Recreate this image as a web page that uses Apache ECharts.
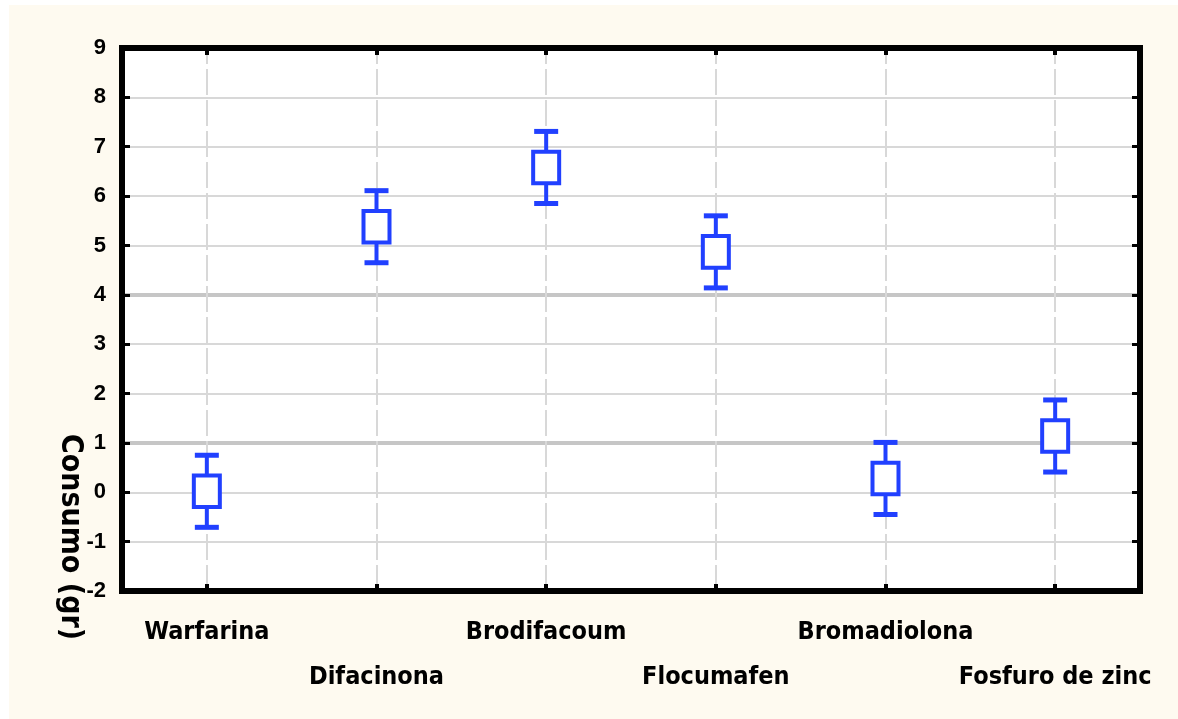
<!DOCTYPE html>
<html>
<head>
<meta charset="utf-8">
<script src="https://cdn.jsdelivr.net/npm/echarts@6/dist/echarts.min.js"></script>
<style>
  html, body { margin: 0; padding: 0; background: #ffffff; }
  #chart { width: 1178px; height: 719px; }
</style>
</head>
<body>
<div id="chart"></div>
<script>
// Treatments (rodenticides)
const categories = ['Warfarina', 'Difacinona', 'Brodifacoum', 'Flocumafen', 'Bromadiolona', 'Fosfuro de zinc'];
// Mean consumption (gr)
const means      = [0.02, 5.38, 6.58, 4.87, 0.28, 1.14];
// Box limits (mean ± standard error)
const boxLow     = [-0.30, 5.06, 6.26, 4.55, -0.04, 0.82];
const boxHigh    = [0.34, 5.70, 6.90, 5.19, 0.60, 1.46];
// Whisker limits (mean ± 1.96 standard error)
const whiskLow   = [-0.71, 4.65, 5.85, 4.14, -0.45, 0.41];
const whiskHigh  = [0.75, 6.11, 7.31, 5.60, 1.01, 1.87];
// Value axis
const yMin = -2, yMax = 9, yStep = 1;
const yTicks = [-2, -1, 0, 1, 2, 3, 4, 5, 6, 7, 8, 9];
const strongLines = [1, 4];

const BLUE = '#2140ff';
const FONT = '"Liberation Sans Narrow", "DejaVu Sans Condensed", "Liberation Sans", sans-serif';

const chart = echarts.init(document.getElementById('chart'), null, { renderer: 'canvas' });

const seriesData = categories.map((c, i) => [i, means[i], boxLow[i], boxHigh[i], whiskLow[i], whiskHigh[i]]);

// Horizontal and vertical grid lines
const hLines = yTicks.filter(v => v > yMin && v < yMax).map(v => ({
  yAxis: v,
  lineStyle: strongLines.includes(v)
    ? { color: '#c6c6c6', width: 4, type: 'solid' }
    : { color: '#d8d8d8', width: 2, type: 'solid' }
}));
const vLines = categories.map(c => ({
  xAxis: c,
  lineStyle: { color: '#d8d8d8', width: 2, type: [26, 5] }
}));

const borderLine = { show: true, onZero: false, lineStyle: { color: '#000', width: 6, cap: 'square' } };

const option = {
  animation: false,
  backgroundColor: '#ffffff',
  graphic: [
    {
      type: 'rect', z: -10, silent: true,
      shape: { x: 9, y: 5, width: 1178, height: 719 },
      style: { fill: '#fefaf0' }
    },
    {
      type: 'text', z: 10, silent: true,
      x: 70, y: 537, rotation: -Math.PI / 2,
      style: {
        text: 'Consumo (gr)',
        font: 'bold 30px ' + FONT,
        fill: '#000',
        align: 'center',
        verticalAlign: 'middle'
      }
    }
  ],
  grid: {
    left: 122, right: 38, top: 48, bottom: 128,
    show: true, backgroundColor: '#ffffff', borderWidth: 0
  },
  xAxis: [
    {
      type: 'category', data: categories, position: 'bottom', z: 5,
      boundaryGap: true,
      axisLine: borderLine,
      axisTick: { show: true, inside: true, alignWithLabel: true, length: 7, lineStyle: { color: '#000', width: 4 } },
      axisLabel: {
        interval: 0, margin: 19, color: '#000', fontWeight: 'bold',
        fontFamily: FONT, fontSize: 25, lineHeight: 45,
        formatter: (v, i) => (i % 2 ? '\n' + v : v)
      },
      splitLine: { show: false }
    },
    {
      type: 'category', data: categories, position: 'top', z: 5,
      boundaryGap: true,
      axisLine: borderLine,
      axisTick: { show: true, inside: true, alignWithLabel: true, length: 7, lineStyle: { color: '#000', width: 4 } },
      axisLabel: { show: false },
      splitLine: { show: false }
    }
  ],
  yAxis: [
    {
      type: 'value', min: yMin, max: yMax, interval: yStep, position: 'left', z: 5,
      axisLine: borderLine,
      axisTick: { show: true, inside: true, length: 8, lineStyle: { color: '#000', width: 3 } },
      axisLabel: { color: '#000', fontWeight: 'bold', fontFamily: '"Liberation Sans", Arial, sans-serif', fontSize: 22, margin: 16 },
      splitLine: { show: false }
    },
    {
      type: 'value', min: yMin, max: yMax, interval: yStep, position: 'right', z: 5,
      axisLine: borderLine,
      axisTick: { show: true, inside: true, length: 8, lineStyle: { color: '#000', width: 3 } },
      axisLabel: { show: false },
      splitLine: { show: false }
    }
  ],
  series: [
    {
      type: 'line', data: [], z: 1, silent: true,
      markLine: {
        z: 1, silent: true, symbol: 'none', animation: false,
        label: { show: false },
        emphasis: { disabled: true },
        data: hLines.concat(vLines)
      }
    },
    {
      type: 'custom', z: 3,
      data: seriesData,
      encode: { x: 0, y: [1, 2, 3, 4, 5] },
      renderItem: (params, api) => {
        const i = api.value(0);
        const x = api.coord([i, 0])[0];
        const yBoxLo = api.coord([i, api.value(2)])[1];
        const yBoxHi = api.coord([i, api.value(3)])[1];
        const yWLo = api.coord([i, api.value(4)])[1];
        const yWHi = api.coord([i, api.value(5)])[1];
        const capW = 24, boxW = 26;
        const lineSty = { stroke: BLUE, lineWidth: 4 };
        return {
          type: 'group',
          children: [
            { type: 'line', shape: { x1: x, y1: yWHi, x2: x, y2: yBoxHi }, style: lineSty },
            { type: 'line', shape: { x1: x, y1: yBoxLo, x2: x, y2: yWLo }, style: lineSty },
            { type: 'line', shape: { x1: x - capW / 2, y1: yWHi, x2: x + capW / 2, y2: yWHi }, style: { stroke: BLUE, lineWidth: 5 } },
            { type: 'line', shape: { x1: x - capW / 2, y1: yWLo, x2: x + capW / 2, y2: yWLo }, style: { stroke: BLUE, lineWidth: 5 } },
            {
              type: 'rect',
              shape: { x: x - boxW / 2, y: yBoxHi, width: boxW, height: yBoxLo - yBoxHi },
              style: { fill: '#ffffff', stroke: BLUE, lineWidth: 4 }
            }
          ]
        };
      }
    }
  ]
};

chart.setOption(option);
</script>
</body>
</html>
